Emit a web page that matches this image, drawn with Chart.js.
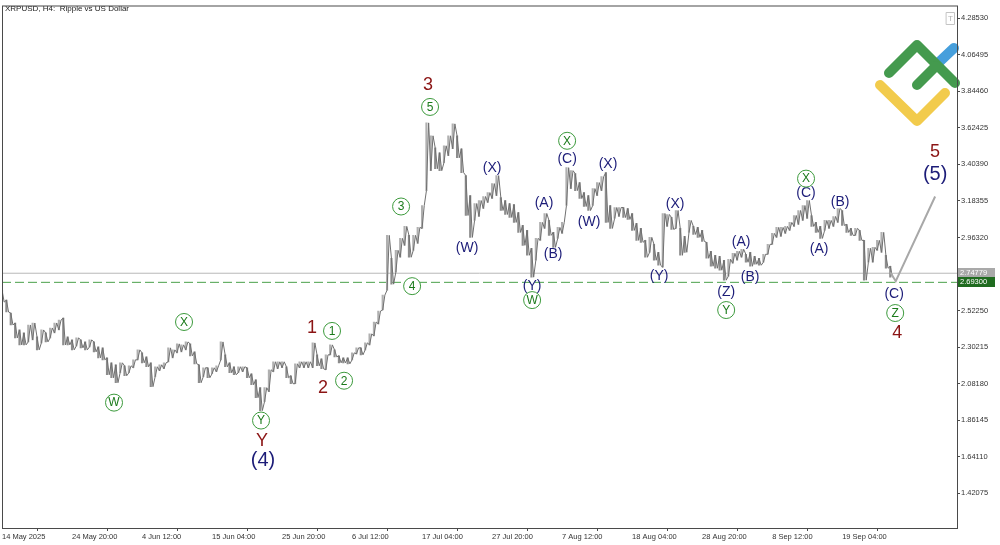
<!DOCTYPE html>
<html>
<head>
<meta charset="utf-8">
<script src="https://cdn.jsdelivr.net/npm/chart.js@4.4.1/dist/chart.umd.min.js"></script>
<style>
    html, body { margin: 0; padding: 0; background: #fff; }
    #wrap { width: 1000px; height: 545px; }
</style>
</head>
<body>
<div id="wrap"><canvas id="chart" width="1000" height="545"></canvas></div>
<script>
// one sample every 4 H4 bars, x axis counted in H4 bars from 14 May
const STEP = 4;
const BARS_PER_LABEL = 64;

const highs = [
    2.646, 2.586, 2.508, 2.448, 2.406, 2.388, 2.436, 2.448, 2.364, 2.406,
    2.388, 2.418, 2.448, 2.466, 2.478, 2.364, 2.346, 2.358, 2.346, 2.334,
    2.346, 2.334, 2.304, 2.298, 2.238, 2.208, 2.196, 2.208, 2.190, 2.190,
    2.226, 2.286, 2.268, 2.244, 2.208, 2.184, 2.196, 2.208, 2.298, 2.286,
    2.322, 2.316, 2.334, 2.322, 2.274, 2.196, 2.178, 2.178, 2.178, 2.190,
    2.334, 2.256, 2.208, 2.184, 2.184, 2.184, 2.178, 2.142, 2.106, 2.058,
    2.058, 2.166, 2.214, 2.214, 2.214, 2.184, 2.130, 2.202, 2.214, 2.214,
    2.214, 2.328, 2.256, 2.232, 2.256, 2.316, 2.286, 2.250, 2.238, 2.238,
    2.268, 2.298, 2.298, 2.328, 2.382, 2.454, 2.520, 2.616, 2.976, 2.838,
    2.886, 2.958, 3.030, 2.976, 2.976, 3.024, 3.156, 3.654, 3.576, 3.504,
    3.474, 3.516, 3.576, 3.648, 3.576, 3.498, 3.336, 3.216, 3.168, 3.186,
    3.210, 3.234, 3.288, 3.336, 3.204, 3.186, 3.168, 3.162, 3.114, 3.036,
    3.006, 2.898, 2.958, 3.054, 3.108, 3.066, 2.994, 3.024, 3.054, 3.384,
    3.366, 3.348, 3.294, 3.234, 3.216, 3.258, 3.294, 3.330, 3.354, 3.156,
    3.144, 3.144, 3.144, 3.138, 3.108, 3.048, 3.018, 2.946, 2.964, 2.922,
    2.874, 3.108, 3.102, 3.084, 3.126, 3.018, 2.970, 3.066, 3.030, 3.024,
    3.006, 2.934, 2.880, 2.856, 2.850, 2.826, 2.832, 2.868, 2.880, 2.892,
    2.862, 2.874, 2.850, 2.838, 2.862, 2.922, 2.988, 3.024, 3.024, 3.030,
    3.054, 3.096, 3.126, 3.156, 3.186, 3.096, 3.054, 3.030, 3.066, 3.066,
    3.090, 3.138, 3.126, 3.042, 3.018, 3.018, 3.006, 2.946, 2.898, 2.904,
    2.946, 2.994, 2.856, 2.790
];
const lows = [
    2.574, 2.514, 2.436, 2.358, 2.316, 2.316, 2.334, 2.346, 2.286, 2.328,
    2.334, 2.358, 2.388, 2.406, 2.316, 2.316, 2.286, 2.310, 2.298, 2.286,
    2.304, 2.274, 2.238, 2.226, 2.136, 2.118, 2.088, 2.148, 2.130, 2.148,
    2.178, 2.226, 2.208, 2.184, 2.064, 2.124, 2.160, 2.172, 2.214, 2.238,
    2.268, 2.274, 2.286, 2.250, 2.202, 2.088, 2.124, 2.118, 2.142, 2.154,
    2.226, 2.184, 2.148, 2.136, 2.148, 2.154, 2.118, 2.076, 1.998, 1.920,
    1.974, 2.034, 2.154, 2.172, 2.178, 2.118, 2.082, 2.082, 2.178, 2.178,
    2.178, 2.178, 2.190, 2.172, 2.166, 2.256, 2.244, 2.208, 2.208, 2.202,
    2.226, 2.262, 2.256, 2.286, 2.316, 2.370, 2.442, 2.526, 2.646, 2.682,
    2.754, 2.844, 2.916, 2.844, 2.886, 2.928, 3.018, 3.246, 3.366, 3.378,
    3.366, 3.414, 3.456, 3.498, 3.444, 3.354, 3.096, 2.964, 3.066, 3.090,
    3.138, 3.174, 3.198, 3.216, 3.126, 3.102, 3.084, 3.054, 2.994, 2.916,
    2.856, 2.724, 2.826, 2.946, 3.018, 2.976, 2.904, 2.958, 2.988, 3.156,
    3.258, 3.246, 3.198, 3.150, 3.126, 3.156, 3.216, 3.246, 3.054, 3.018,
    3.078, 3.090, 3.084, 3.072, 3.006, 2.946, 2.934, 2.844, 2.874, 2.826,
    2.796, 2.784, 3.030, 3.012, 3.018, 2.856, 2.874, 2.994, 2.982, 2.964,
    2.940, 2.838, 2.790, 2.778, 2.766, 2.706, 2.730, 2.808, 2.826, 2.844,
    2.814, 2.790, 2.802, 2.796, 2.814, 2.862, 2.922, 2.964, 2.970, 2.988,
    3.006, 3.030, 3.042, 3.066, 3.078, 3.030, 2.994, 2.958, 3.006, 3.018,
    3.030, 3.054, 3.036, 2.994, 2.976, 2.976, 2.946, 2.706, 2.814, 2.814,
    2.886, 2.874, 2.778, 2.724
];

const dateLabels = ["14 May 2025", "24 May 20:00", "4 Jun 12:00", "15 Jun 04:00", "25 Jun 20:00",
    "6 Jul 12:00", "17 Jul 04:00", "27 Jul 20:00", "7 Aug 12:00", "18 Aug 04:00",
    "28 Aug 20:00", "8 Sep 12:00", "19 Sep 04:00"];
const yTicks = [1.42075, 1.64110, 1.86145, 2.08180, 2.30215, 2.52250, 2.74285,
    2.96320, 3.18355, 3.40390, 3.62425, 3.84460, 4.06495, 4.28530];

const lastPrice = 2.74779;
const supportLevel = 2.69300;

// projected path (bar index, price)
const forecastX = [812, 817, 853];
const forecastY = [2.754, 2.700, 3.210];

// wave counts: [text, bar index, price]
const redWaves = [["3", 389.5, 3.882], ["1", 283.4, 2.418], ["2", 293.5, 2.058],
    ["Y", 237.7, 1.734], ["4", 818.3, 2.388], ["5", 853, 3.48]];
const bigWaves = [["(4)", 238.6, 1.62], ["(5)", 853, 3.342]];
const minorWaves = [["(W)", 425.1, 2.898], ["(X)", 448, 3.384], ["(Y)", 484.6, 2.67],
    ["(A)", 495.5, 3.168], ["(B)", 503.8, 2.862], ["(C)", 516.6, 3.438],
    ["(W)", 536.7, 3.054], ["(X)", 554, 3.408], ["(Y)", 600.7, 2.73],
    ["(X)", 615.3, 3.162], ["(Z)", 662, 2.634], ["(A)", 675.7, 2.934],
    ["(B)", 683.9, 2.724], ["(C)", 735, 3.228], ["(A)", 747, 2.892],
    ["(B)", 766.2, 3.174], ["(C)", 815.5, 2.622]];
const circledWaves = [["W", 102.4, 1.968], ["X", 166.4, 2.454], ["Y", 236.8, 1.86],
    ["1", 301.7, 2.40], ["2", 312.7, 2.10], ["3", 364.8, 3.15], ["4", 374.9, 2.67],
    ["5", 391.3, 3.75], ["W", 484.6, 2.586], ["X", 516.6, 3.546], ["Y", 662, 2.526],
    ["X", 735, 3.318], ["Z", 816.5, 2.508]];

const FONT = "'Liberation Sans', Arial, sans-serif";
const X_MAX = 873;

const rising = (i) => i > 0 && (highs[i] + lows[i]) >= (highs[i - 1] + lows[i - 1]);

// high/low range of each sample
const bars = highs.map((h, i) => ({ x: i * STEP, y: [lows[i], h] }));
const barColors = highs.map((h, i) => rising(i) ? "#b0b0b0" : "#8c8c8c");

// price path: low then high on the way up, high then low on the way down
const path = [];
highs.forEach((h, i) => {
    const first = rising(i) ? lows[i] : h;
    const second = rising(i) ? h : lows[i];
    path.push({ x: i * STEP, y: first });
    path.push({ x: i * STEP + STEP / 2, y: second });
});

const levelLine = (p) => [{ x: 0, y: p }, { x: X_MAX, y: p }];

// frame, title, logo, price boxes
const decorPlugin = {
    id: "decor",
    beforeDatasetsDraw(chart) {
        const ctx = chart.ctx;
        ctx.save();
        ctx.font = `8px ${FONT}`;
        ctx.fillStyle = "#222";
        ctx.textBaseline = "middle";
        ctx.textAlign = "left";
        ctx.fillText("XRPUSD, H4:  Ripple vs US Dollar", 5, 9);

        // logo
        ctx.lineCap = "round";
        ctx.lineJoin = "round";
        ctx.lineWidth = 10;
        ctx.strokeStyle = "#f2cb4c";
        ctx.beginPath(); ctx.moveTo(880, 85); ctx.lineTo(917, 121); ctx.lineTo(945, 93); ctx.stroke();
        ctx.strokeStyle = "#469fdc";
        ctx.beginPath(); ctx.moveTo(936, 65); ctx.lineTo(954, 48); ctx.stroke();
        ctx.strokeStyle = "#449a4e";
        ctx.beginPath(); ctx.moveTo(889, 73); ctx.lineTo(917, 45); ctx.lineTo(955, 83); ctx.stroke();
        ctx.beginPath(); ctx.moveTo(917, 85); ctx.lineTo(936, 66); ctx.stroke();

        // small "T" box
        ctx.lineWidth = 1;
        ctx.strokeStyle = "#c4c4c4";
        ctx.strokeRect(946.5, 12.5, 8, 12);
        ctx.fillStyle = "#b0b0b0";
        ctx.textAlign = "center";
        ctx.fillText("T", 950.5, 18.5);
        ctx.restore();
    },
    afterDraw(chart) {
        const ctx = chart.ctx;
        const a = chart.chartArea;
        const y = chart.scales.y;
        ctx.save();
        ctx.strokeStyle = "#4a4a4a";
        ctx.lineWidth = 1;
        ctx.strokeRect(a.left + 0.5, a.top + 0.5, a.right - a.left, a.bottom - a.top);

        ctx.font = `7.5px ${FONT}`;
        ctx.textBaseline = "middle";
        ctx.textAlign = "left";
        [[lastPrice, "#a9a9a9"], [supportLevel, "#1f6b1f"]].forEach(([p, bg]) => {
            const py = Math.round(y.getPixelForValue(p));
            ctx.fillStyle = bg;
            ctx.fillRect(958, py - 5, 37, 10);
            ctx.fillStyle = "#fff";
            ctx.fillText(p.toFixed(5), 960, py);
        });
        ctx.restore();
    }
};

// Elliott wave labels
const wavePlugin = {
    id: "waves",
    afterDatasetsDraw(chart) {
        const ctx = chart.ctx;
        const xs = chart.scales.x, ys = chart.scales.y;
        ctx.save();
        ctx.textAlign = "center";
        ctx.textBaseline = "middle";

        ctx.fillStyle = "#8b1414";
        ctx.font = `18px ${FONT}`;
        redWaves.forEach(([t, x, p]) => ctx.fillText(t, xs.getPixelForValue(x), ys.getPixelForValue(p)));

        ctx.fillStyle = "#1c1c78";
        ctx.font = `20px ${FONT}`;
        bigWaves.forEach(([t, x, p]) => ctx.fillText(t, xs.getPixelForValue(x), ys.getPixelForValue(p)));

        ctx.font = `14px ${FONT}`;
        minorWaves.forEach(([t, x, p]) => ctx.fillText(t, xs.getPixelForValue(x), ys.getPixelForValue(p)));

        ctx.font = `12px ${FONT}`;
        circledWaves.forEach(([t, x, p]) => {
            const cx = xs.getPixelForValue(x), cy = ys.getPixelForValue(p);
            ctx.beginPath();
            ctx.arc(cx, cy, 8.5, 0, Math.PI * 2);
            ctx.fillStyle = "#fff";
            ctx.fill();
            ctx.strokeStyle = "#3c9a3c";
            ctx.lineWidth = 1;
            ctx.stroke();
            ctx.fillStyle = "#1a7a1a";
            ctx.fillText(t, cx, cy + 0.5);
        });
        ctx.restore();
    }
};

const ctx = document.getElementById("chart").getContext("2d");
new Chart(ctx, {
    type: "bar",
    data: {
        datasets: [
            {
                type: "line",
                data: levelLine(lastPrice),
                borderColor: "#b8b8b8",
                borderWidth: 1,
                pointRadius: 0,
                order: 4
            },
            {
                type: "line",
                data: levelLine(supportLevel),
                borderColor: "#4aa04a",
                borderDash: [9, 4],
                borderWidth: 1,
                pointRadius: 0,
                order: 4
            },
            {
                type: "bar",
                data: bars,
                backgroundColor: barColors,
                barThickness: 1.5,
                order: 3
            },
            {
                type: "line",
                data: path,
                borderColor: "#707070",
                borderWidth: 1,
                pointRadius: 0,
                order: 2
            },
            {
                type: "line",
                data: forecastX.map((x, i) => ({ x: x, y: forecastY[i] })),
                borderColor: "#a8a8a8",
                borderWidth: 2,
                pointRadius: 0,
                order: 1
            }
        ]
    },
    options: {
        responsive: false,
        animation: false,
        layout: { padding: { left: 2, top: 3, right: 0, bottom: 0 } },
        plugins: { legend: { display: false }, tooltip: { enabled: false } },
        scales: {
            x: {
                type: "linear",
                min: 0,
                max: X_MAX,
                offset: false,
                border: { display: false },
                grid: { drawOnChartArea: false, tickLength: 3, color: "#4a4a4a" },
                ticks: {
                    autoSkip: false,
                    maxRotation: 0,
                    align: "start",
                    padding: 1,
                    color: "#333",
                    font: { family: FONT, size: 7.5 },
                    callback: (v) => dateLabels[Math.round(v / BARS_PER_LABEL)]
                },
                afterBuildTicks: (s) => { s.ticks = dateLabels.map((_, i) => ({ value: i * BARS_PER_LABEL })); },
                afterFit: (s) => { s.height = 17; }
            },
            y: {
                position: "right",
                min: 1.2124,
                max: 4.3614,
                border: { display: false },
                grid: { drawOnChartArea: false, tickLength: 3, color: "#4a4a4a" },
                ticks: {
                    padding: 1,
                    color: "#333",
                    font: { family: FONT, size: 7.5 },
                    callback: (v) => v.toFixed(5)
                },
                afterBuildTicks: (s) => { s.ticks = yTicks.map((v) => ({ value: v })); },
                afterFit: (s) => { s.width = 43; }
            }
        }
    },
    plugins: [decorPlugin, wavePlugin]
});
</script>
</body>
</html>
